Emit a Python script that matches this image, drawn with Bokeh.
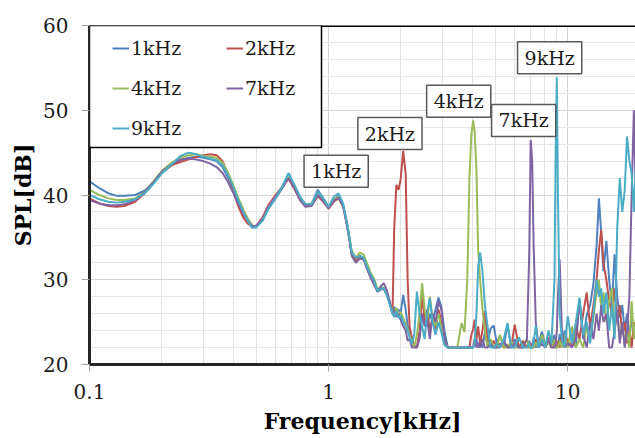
from bokeh.plotting import figure
from bokeh.models import FixedTicker, Legend, LegendItem, Label, Span, BoxAnnotation, Range1d
from bokeh.embed import file_html
from bokeh.resources import INLINE

# ---------------- data ----------------
freq_low = [0.10, 0.11, 0.12, 0.13, 0.14, 0.155, 0.17, 0.185, 0.20, 0.22, 0.24, 0.26, 0.28,
            0.30, 0.32, 0.34, 0.36, 0.38, 0.40, 0.42, 0.44, 0.46, 0.48, 0.50, 0.53, 0.56,
            0.60, 0.64, 0.68, 0.72, 0.76, 0.80, 0.85, 0.90, 0.95, 1.00, 1.05, 1.10, 1.15,
            1.20, 1.25, 1.30, 1.35, 1.40, 1.45, 1.50, 1.55, 1.60, 1.65, 1.70, 1.75, 1.80]
freq_high = [1.85, 1.88, 1.92, 1.96, 2.00, 2.05, 2.10, 2.14, 2.18, 2.23,
             2.28, 2.34, 2.40, 2.46, 2.52, 2.58, 2.65, 2.72, 2.80, 2.88,
             2.96, 3.05, 3.15, 3.30, 3.45, 3.60, 3.70, 3.80, 3.88, 3.95,
             4.02, 4.08, 4.15, 4.22, 4.30, 4.40, 4.50, 4.62, 4.75, 4.90,
             5.05, 5.20, 5.40, 5.60, 5.80, 6.00, 6.25, 6.50, 6.75, 6.90,
             7.00, 7.10, 7.20, 7.35, 7.55, 7.80, 8.05, 8.30, 8.55, 8.80,
             8.90, 9.00, 9.10, 9.25, 9.45, 9.70, 10.0, 10.4, 10.8, 11.2,
             11.6, 12.0, 12.4, 12.8, 13.2, 13.5, 13.8, 14.1, 14.5, 14.9,
             15.3, 15.7, 16.1, 16.5, 16.9, 17.3, 17.7, 18.1, 18.5, 18.9,
             19.3]
freq = freq_low + freq_high

spl_1k = [41.6, 40.8, 40.2, 39.9, 39.9, 40.0, 40.5, 41.5, 42.6, 43.5, 44.1, 44.4, 44.5,
          44.4, 44.2, 44.0, 43.3, 42.0, 40.5, 39.0, 37.8, 36.9, 36.3, 36.3, 37.0, 38.4,
          39.6, 40.8, 42.1, 40.9, 39.5, 38.8, 39.0, 40.6, 39.6, 38.5, 39.4, 39.9, 38.8,
          36.0, 33.2, 32.5, 32.9, 32.5, 31.4, 30.6, 29.8, 28.6, 28.8, 29.0, 28.2, 27.2,
          26.3, 26.8, 26.2, 26.5, 26.0, 28.2, 26.5, 24.6, 24.0, 22.8,
          22.2, 22.0, 23.5, 25.5, 26.3, 24.5, 26.0, 25.0, 26.5, 27.9,
          26.8, 24.0, 22.0, 22.0, 22.0, 22.0, 22.0, 22.0, 22.0, 22.0,
          22.0, 22.5, 23.0, 22.0, 22.8, 22.0, 23.8, 22.4, 24.2, 24.6,
          22.5, 23.4, 22.2, 24.7, 22.0, 23.0, 22.0, 22.6, 22.0, 22.8,
          22.0, 22.0, 23.2, 22.0, 22.5, 23.9, 22.3, 23.0, 22.0, 23.5,
          22.0, 22.4, 22.0, 23.6, 22.2, 24.0, 22.5, 23.6, 22.0, 27.6,
          23.0, 25.8, 27.0, 29.5, 34.0, 39.6, 35.5, 31.0, 34.6, 30.0,
          27.0, 33.0, 28.0, 25.5, 27.0, 24.0, 26.0, 23.0, 25.5, 23.5,
          24.5]
spl_2k = [39.6, 39.0, 38.7, 38.6, 38.7, 39.2, 40.2, 41.4, 42.6, 43.5, 43.9, 44.2, 44.5,
          44.7, 44.8, 44.7, 44.0, 42.4, 40.4, 38.6, 37.3, 36.6, 36.2, 36.4, 37.4, 38.8,
          40.0, 41.0, 41.9, 40.7, 39.4, 38.7, 38.8, 39.9, 39.2, 38.4, 39.2, 39.6, 38.6,
          36.2, 33.0, 32.3, 32.7, 32.6, 31.5, 30.5, 29.7, 28.8, 28.9, 28.9, 28.3, 27.3,
          26.0, 36.0, 41.2, 40.6, 41.8, 45.2, 42.5, 30.0, 24.5, 23.2,
          22.2, 22.0, 24.0, 28.4, 25.0, 26.5, 24.0, 25.5, 24.0, 26.5,
          25.0, 23.0, 22.0, 22.0, 22.0, 22.0, 22.0, 22.0, 22.0, 23.5,
          24.1, 25.3, 23.0, 24.5, 22.5, 24.0, 26.3, 23.0, 22.0, 22.8,
          22.0, 22.5, 22.0, 22.3, 22.0, 24.7, 22.0, 22.8, 22.0, 22.0,
          22.5, 22.0, 22.0, 23.0, 22.0, 22.6, 22.0, 23.2, 22.0, 22.4,
          22.0, 22.0, 22.8, 22.0, 23.4, 22.0, 23.0, 22.0, 24.5, 23.0,
          26.0, 28.5, 24.5, 27.0, 30.0, 33.5, 35.9, 32.0, 30.0, 27.5,
          26.0, 29.0, 25.0, 27.0, 23.5, 25.0, 22.5, 24.0, 22.0, 25.0,
          23.0]
spl_4k = [40.6, 40.0, 39.6, 39.4, 39.4, 39.6, 40.3, 41.6, 42.8, 43.8, 44.4, 44.7, 44.8,
          44.6, 44.5, 44.4, 43.8, 42.6, 41.1, 39.6, 38.3, 37.2, 36.4, 36.3, 37.1, 38.5,
          39.7, 41.0, 42.3, 41.0, 39.6, 38.9, 39.0, 40.3, 39.4, 38.6, 39.5, 39.8, 38.8,
          36.3, 33.4, 32.6, 33.2, 33.0, 31.9, 30.8, 30.1, 28.9, 29.0, 29.1, 28.4, 27.4,
          26.4, 26.0, 26.7, 25.8, 26.2, 25.5, 24.8, 24.2, 23.5, 22.6,
          22.0, 23.5, 26.0, 29.6, 26.5, 25.0, 28.0, 25.5, 24.5, 26.0,
          24.5, 22.5, 22.0, 22.0, 22.0, 24.9, 23.8, 30.0, 42.0, 47.0,
          48.8, 47.5, 43.0, 33.5, 30.0, 26.5, 24.0, 22.0, 23.0, 22.0,
          22.0, 23.5, 22.0, 22.0, 22.8, 22.0, 22.0, 22.0, 23.0, 22.0,
          22.0, 22.0, 22.0, 22.6, 22.0, 23.5, 22.0, 22.6, 22.0, 23.0,
          22.0, 22.0, 22.0, 22.8, 22.0, 23.5, 22.0, 24.5, 22.0, 23.0,
          22.0, 24.5, 23.0, 25.5, 28.5, 30.0, 26.5, 28.5, 25.0, 27.5,
          29.0, 24.0, 26.5, 23.0, 25.0, 22.5, 24.0, 22.0, 27.5, 23.0,
          25.5]
spl_7k = [39.4, 39.0, 38.8, 38.8, 38.9, 39.4, 40.3, 41.5, 42.7, 43.6, 44.2, 44.3, 44.2,
          44.0, 43.7, 43.3, 42.6, 41.5, 40.2, 38.9, 37.8, 36.9, 36.3, 36.4, 37.2, 38.6,
          39.8, 40.9, 42.0, 40.8, 39.4, 38.6, 38.7, 40.0, 39.3, 38.4, 39.3, 39.7, 38.7,
          36.1, 32.8, 32.0, 32.5, 32.4, 31.2, 30.2, 29.4, 28.6, 29.2, 29.6, 28.8, 27.5,
          26.0, 26.4, 25.6, 26.0, 25.3, 24.5, 24.0, 22.8, 23.0, 22.0,
          22.0, 22.0, 23.0, 26.0, 24.5, 25.5, 23.0, 26.0, 25.0, 27.5,
          26.5, 23.0, 22.0, 22.0, 22.0, 22.0, 22.0, 22.0, 22.0, 22.0,
          22.0, 23.0, 22.0, 22.5, 22.0, 23.0, 22.0, 22.0, 22.5, 22.0,
          22.0, 22.0, 22.8, 22.0, 22.0, 22.5, 22.0, 22.0, 23.0, 33.0,
          46.5, 44.0, 34.0, 25.0, 22.0, 22.5, 22.0, 23.0, 22.0, 22.0,
          22.5, 24.0, 28.0, 32.4, 24.0, 22.0, 22.5, 22.0, 23.0, 27.5,
          23.5, 22.0, 25.0, 23.0, 26.0, 24.0, 27.0, 25.0, 26.0, 22.0,
          22.0, 24.0, 26.5, 22.5, 25.0, 22.0, 24.0, 28.0, 40.0, 50.0,
          38.0]
spl_9k = [40.0, 39.5, 39.2, 39.1, 39.2, 39.5, 40.2, 41.3, 42.5, 43.6, 44.6, 45.0, 44.8,
          44.5, 44.3, 44.1, 43.5, 42.3, 40.9, 39.3, 38.0, 36.9, 36.1, 36.2, 37.0, 38.4,
          39.6, 41.0, 42.6, 41.2, 39.8, 38.9, 38.9, 40.4, 39.6, 38.6, 39.8, 40.2, 39.0,
          36.4, 33.2, 32.6, 32.8, 32.6, 31.5, 30.6, 29.9, 28.7, 28.9, 29.0, 28.2, 27.1,
          26.0, 25.6, 26.3, 25.5, 25.8, 25.0, 24.5, 24.0, 23.2, 22.4,
          23.5, 28.6, 26.0, 24.5, 23.0, 26.0, 27.8, 25.0, 23.5, 25.0,
          23.8, 22.3, 22.0, 22.0, 22.0, 22.0, 22.0, 22.0, 22.0, 22.0,
          22.0, 22.5, 26.0, 31.5, 33.2, 31.0, 27.0, 24.5, 22.0, 22.0,
          22.5, 22.0, 23.0, 24.9, 22.0, 22.0, 23.2, 22.0, 22.0, 22.5,
          22.0, 22.0, 22.5, 24.6, 22.0, 23.0, 22.0, 24.0, 22.5, 30.0,
          45.0, 53.9, 40.0, 26.0, 23.0, 22.0, 25.7, 22.5, 24.9, 27.9,
          23.5, 25.0, 22.5, 26.0, 30.0, 28.0, 29.0, 26.0, 28.5, 24.0,
          27.0, 23.0, 36.0, 42.0, 38.0, 40.5, 46.9, 44.0, 42.5, 38.0,
          44.5]

series_names = ["1kHz", "2kHz", "4kHz", "7kHz", "9kHz"]
series_values = [spl_1k, spl_2k, spl_4k, spl_7k, spl_9k]
series_colors = ["#4F81BD", "#C0504D", "#9BBB59", "#8064A2", "#4BACC6"]

x_ticks = [0.1, 1, 10]
x_tick_labels = ["0.1", "1", "10"]
x_minor_ticks = [0.2, 0.3, 0.4, 0.5, 0.6, 0.7, 0.8, 0.9, 2, 3, 4, 5, 6, 7, 8, 9, 20]
y_ticks = [20, 30, 40, 50, 60]
y_minor_ticks = [v for v in range(22, 60, 2) if v % 10 != 0]

callout_texts = ["1kHz", "2kHz", "4kHz", "7kHz", "9kHz"]
callout_x = [1.075, 1.805, 3.50, 6.54, 8.40]
callout_y = [42.8, 47.25, 51.05, 48.8, 56.2]

SERIF = "DejaVu Serif"

# ---------------- figure ----------------
p = figure(width=635, height=438, x_axis_type="log",
           x_range=Range1d(0.1, 19.2), y_range=Range1d(20, 60),
           output_backend="svg", toolbar_location=None,
           min_border_left=89, min_border_right=0, min_border_top=25, min_border_bottom=74)
p.outline_line_color = None
p.background_fill_color = "white"

for ax in (p.xaxis, p.yaxis):
    ax.axis_line_width = 3
    ax.axis_line_color = "#262626"
    ax.major_tick_in = 0
    ax.major_tick_line_color = "#a6a6a6"
    ax.minor_tick_line_color = None
    ax.major_label_text_font = SERIF
    ax.major_label_text_font_size = "20px"
    ax.major_label_text_color = "#1a1a1a"
    ax.axis_label_text_font = SERIF
    ax.axis_label_text_font_size = "22px"
    ax.axis_label_text_font_style = "bold"
    ax.axis_label_text_color = "black"

p.xaxis.ticker = FixedTicker(ticks=x_ticks, minor_ticks=x_minor_ticks)
p.xaxis.major_label_overrides = {t: l for t, l in zip(x_ticks, x_tick_labels)}
p.xaxis.major_tick_out = 7
p.xaxis.major_label_standoff = 12
p.xaxis.axis_label = "Frequency[kHz]"
p.xaxis.axis_label_standoff = 6

p.yaxis.ticker = FixedTicker(ticks=y_ticks, minor_ticks=y_minor_ticks)
p.yaxis.major_tick_out = 8
p.yaxis.major_label_standoff = 13
p.yaxis.axis_label = "SPL[dB]"
p.yaxis.axis_label_standoff = 4

p.xgrid.grid_line_color = "#d4d4d4"
p.xgrid.minor_grid_line_color = "#e3e3e3"
p.ygrid.grid_line_color = "#d4d4d4"
p.ygrid.minor_grid_line_color = "#e6e6e6"

items = []
for name, vals, col in zip(series_names, series_values, series_colors):
    r = p.line(freq, vals, line_color=col, line_width=2)
    items.append(LegendItem(label=name, renderers=[r]))

p.add_layout(Span(location=60, dimension="width", line_color="black", line_width=3))

p.add_layout(BoxAnnotation(left=89, right=321, top=25, bottom=147,
                           left_units="canvas", right_units="canvas",
                           top_units="canvas", bottom_units="canvas",
                           fill_color="white", fill_alpha=1.0,
                           line_color="black", line_width=1.5, line_alpha=1.0))
legend = Legend(items=items, location=(23, 221), orientation="horizontal", ncols=2,
                padding=7, spacing=10, margin=0,
                glyph_width=17, glyph_height=20, label_standoff=2,
                label_width=85, label_height=30,
                label_text_font=SERIF, label_text_font_size="19px",
                label_text_color="#1a1a1a",
                border_line_color=None, background_fill_alpha=0)
p.add_layout(legend)

for t, cx, cy in zip(callout_texts, callout_x, callout_y):
    p.add_layout(Label(x=cx, y=cy, text=t, text_align="center", text_baseline="middle",
                       text_font=SERIF, text_font_size="19px", text_color="#1a1a1a",
                       border_line_color="#595959", border_line_width=1.5,
                       background_fill_color="white", background_fill_alpha=1.0,
                       padding=dict(left=7, right=7, top=5, bottom=5)))

open("out.html", "w").write(file_html(p, INLINE))
